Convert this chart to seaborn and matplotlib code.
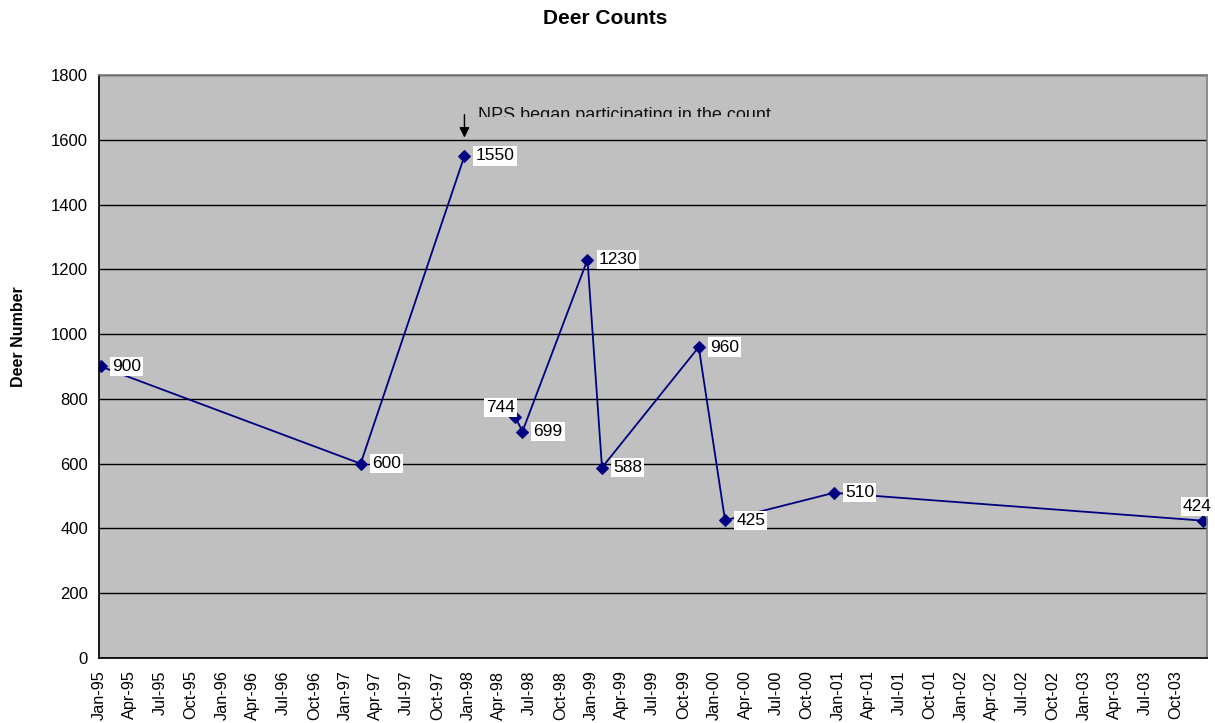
import matplotlib
matplotlib.use('Agg')
import matplotlib.pyplot as plt
import matplotlib.dates as mdates
import matplotlib.transforms as mtransforms
from matplotlib.patches import Rectangle
import seaborn as sns
import numpy as np
import pandas as pd

# survey dates and counts (a gap after the 1550 count)
count_dates = ['1995-01-06', '1997-02-15', '1997-12-20',
               '1998-05-20', '1998-06-10', '1998-12-20', '1999-02-01',
               '1999-11-15', '2000-02-01', '2000-12-20', '2003-12-20']
deer_counts = [900, 600, 1550, 744, 699, 1230, 588, 960, 425, 510, 424]
segment_ids = [0, 0, 0, 1, 1, 1, 1, 1, 1, 1, 1]
note_text = 'NPS began participating in the count'
note_index = 2

df = pd.DataFrame({
    'date': pd.to_datetime(count_dates),
    'count': deer_counts,
    'segment': segment_ids,
})

sns.set_theme(style='white')
plt.rcParams['font.family'] = ['Liberation Sans', 'DejaVu Sans']
plt.rcParams['text.color'] = 'black'

fig = plt.figure(figsize=(12.15, 7.23), dpi=100)
ax = fig.add_axes([0.0815, 0.0899, 0.912, 0.8064])
ax.set_facecolor('#C0C0C0')

sns.lineplot(data=df, x='date', y='count', units='segment', estimator=None,
             color='#000080', lw=1.3, marker='D', markersize=6.5,
             markeredgecolor='#000080', ax=ax, legend=False)

ax.set_ylim(0, 1800)
ax.set_yticks(np.arange(0, 1801, 200))
ax.set_xlim(pd.Timestamp('1995-01-01'), pd.Timestamp('2004-01-01'))
ax.xaxis.set_major_locator(mdates.MonthLocator(bymonth=[1, 4, 7, 10]))


def quarter_label(x, pos):
    d = mdates.num2date(x)
    if d.year >= 2004:
        return ''
    return d.strftime('%b-%y')


ax.xaxis.set_major_formatter(plt.FuncFormatter(quarter_label))
plt.setp(ax.get_xticklabels(), rotation=90)

ax.yaxis.grid(True, color='black', lw=1)
ax.set_axisbelow(True)
for side in ['top', 'right']:
    ax.spines[side].set_color('#808080')
for side in ['left', 'bottom']:
    ax.spines[side].set_color('black')
ax.tick_params(axis='both', which='major', direction='out', length=5,
               width=1, color='black', labelsize=12, labelcolor='black', pad=3)
ax.tick_params(axis='x', labelsize=11.7, pad=4)

ax.set_xlabel('')
ax.set_ylabel('')
fig.text(0.015, 0.535, 'Deer Number', rotation=90, ha='center', va='center',
         fontsize=11.5, fontweight='bold', color='black')
fig.text(0.498, 0.975, 'Deer Counts', ha='center', va='center',
         fontsize=15, fontweight='bold', color='black')

# data labels in white boxes
offsets = {3: (0, 7, 'right'), 10: (-4, 10, 'center')}
for i, (d, c) in enumerate(zip(df['date'], df['count'])):
    dx, dy, ha = offsets.get(i, (8, 0, 'left'))
    ax.annotate(str(c), (d, c), xytext=(dx, dy), textcoords='offset points',
                ha=ha, va='center', fontsize=12.5, color='black',
                bbox=dict(boxstyle='square,pad=0.12', fc='white', ec='none'),
                annotation_clip=False)

# note with arrow above the 1550 count (text bottom cut off as in the source)
nd = df['date'][note_index]
ax.annotate('', xy=(nd, 1598), xytext=(nd, 1686),
            arrowprops=dict(arrowstyle='-|>', color='black', lw=1,
                            mutation_scale=15))
note = ax.annotate(note_text, (nd, 1661), xytext=(9.5, 0),
                   textcoords='offset points', ha='left', va='baseline',
                   fontsize=13, color='#111111')
band = mtransforms.blended_transform_factory(ax.transAxes, ax.transData)
clip_rect = Rectangle((0, 1670), 1, 300, transform=band)
note.set_clip_path(clip_rect)

fig.savefig('out.png', dpi=100, facecolor='white')
